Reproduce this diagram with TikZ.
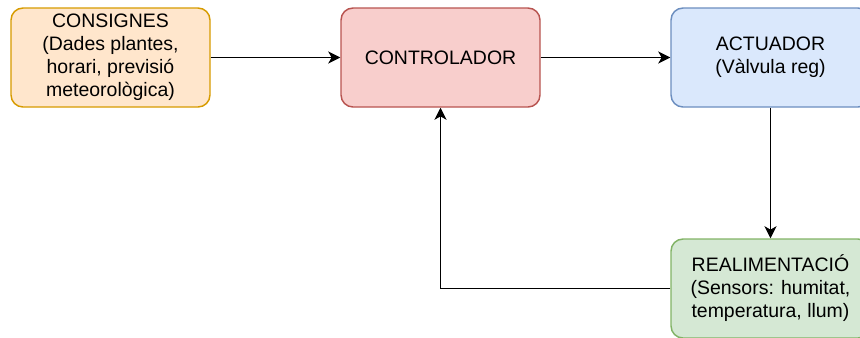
\documentclass[tikz,border=0pt]{standalone}
\usepackage{fontspec}
\setmainfont{Liberation Sans}
\usepackage{tikz}
\usetikzlibrary{positioning, arrows.meta}

\definecolor{setfill}{HTML}{FFE6CC}
\definecolor{setline}{HTML}{D79B00}
\definecolor{ctrlfill}{HTML}{F8CECC}
\definecolor{ctrlline}{HTML}{B85450}
\definecolor{actfill}{HTML}{DAE8FC}
\definecolor{actline}{HTML}{6C8EBF}
\definecolor{fbfill}{HTML}{D5E8D4}
\definecolor{fbline}{HTML}{82B366}

\begin{document}
\begin{tikzpicture} [node distance = 173.25pt and 247.5pt,
			on grid,
			every node/.style = {font = \fontsize{14.6pt}{17.25pt}\selectfont},
			block/.style = {rectangle, rounded corners = 9pt,
				line width = 1.1pt,
				minimum width = 149.25pt, minimum height = 74.25pt,
				align = center, inner sep = 2pt
			}
			]
			\useasboundingbox (-82.875pt, 43.125pt) rectangle (562.125pt, -209.625pt);
			% Blocks
			\node (cons) [block, draw = setline, fill = setfill] {CONSIGNES\\(Dades plantes,\\horari, previsió\\meteorològica)};
			\node (ctrl) [block, draw = ctrlline, fill = ctrlfill, right = of cons] {CONTROLADOR};
			\node (act) [block, draw = actline, fill = actfill, right = of ctrl] {ACTUADOR\\(Vàlvula reg)};
			\node (real) [block, draw = fbline, fill = fbfill, below = of act] {REALIMENTACIÓ\\(Sensors: humitat,\\temperatura, llum)};
			%Connections
			\path [-{Stealth[length = 9pt, width = 9pt, inset = 2.5pt]}, line width = 1.2pt]
			
			(cons) edge (ctrl)
			(ctrl) edge (act)
			
			(act) edge (real);
			
			\draw [-{Stealth[length = 9pt, width = 9pt, inset = 2.5pt]}, line width = 1.2pt]
			(real.west) -| (ctrl.south);
		\end{tikzpicture}
\end{document}
